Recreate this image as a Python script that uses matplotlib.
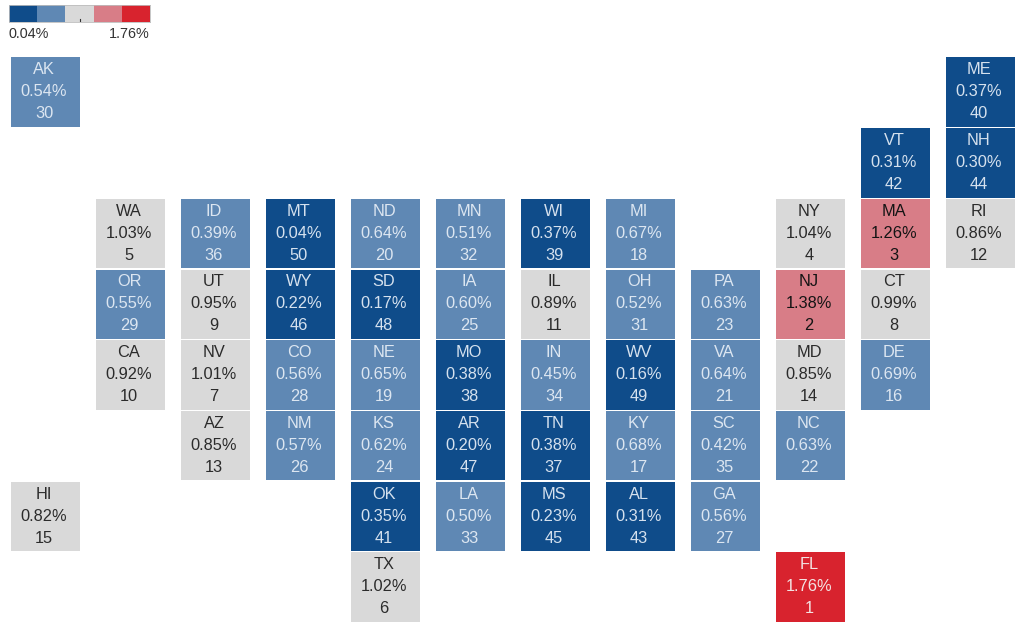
"""Tile grid map of US states, shaded by percentage, with rank under each value."""
import matplotlib
matplotlib.use("Agg")
import matplotlib.pyplot as plt
from matplotlib.patches import Rectangle
import numpy as np

plt.rcParams["font.family"] = ["Liberation Sans", "DejaVu Sans"]

STATES = ["AK", "ME", "VT", "NH",
          "WA", "ID", "MT", "ND", "MN", "WI", "MI", "NY", "MA", "RI",
          "OR", "UT", "WY", "SD", "IA", "IL", "OH", "PA", "NJ", "CT",
          "CA", "NV", "CO", "NE", "MO", "IN", "WV", "VA", "MD", "DE",
          "AZ", "NM", "KS", "AR", "TN", "KY", "SC", "NC",
          "HI", "OK", "LA", "MS", "AL", "GA",
          "TX", "FL"]
PCT = [0.54, 0.37, 0.31, 0.30,
       1.03, 0.39, 0.04, 0.64, 0.51, 0.37, 0.67, 1.04, 1.26, 0.86,
       0.55, 0.95, 0.22, 0.17, 0.60, 0.89, 0.52, 0.63, 1.38, 0.99,
       0.92, 1.01, 0.56, 0.65, 0.38, 0.45, 0.16, 0.64, 0.85, 0.69,
       0.85, 0.57, 0.62, 0.20, 0.38, 0.68, 0.42, 0.63,
       0.82, 0.35, 0.50, 0.23, 0.31, 0.56,
       1.02, 1.76]
RANK = [30, 40, 42, 44,
        5, 36, 50, 20, 32, 39, 18, 4, 3, 12,
        29, 9, 46, 48, 25, 11, 31, 23, 2, 8,
        10, 7, 28, 19, 38, 34, 49, 21, 14, 16,
        13, 26, 24, 47, 37, 17, 35, 22,
        15, 41, 33, 45, 43, 27,
        6, 1]
GRID_COL = [0, 11, 10, 11,
            1, 2, 3, 4, 5, 6, 7, 9, 10, 11,
            1, 2, 3, 4, 5, 6, 7, 8, 9, 10,
            1, 2, 3, 4, 5, 6, 7, 8, 9, 10,
            2, 3, 4, 5, 6, 7, 8, 9,
            0, 4, 5, 6, 7, 8,
            4, 9]
GRID_ROW = [0, 0, 1, 1,
            2, 2, 2, 2, 2, 2, 2, 2, 2, 2,
            3, 3, 3, 3, 3, 3, 3, 3, 3, 3,
            4, 4, 4, 4, 4, 4, 4, 4, 4, 4,
            5, 5, 5, 5, 5, 5, 5, 5,
            6, 6, 6, 6, 6, 6,
            7, 7]

BIN_EDGES = [0.385, 0.75, 1.10, 1.50]
BIN_COLORS = ["#0F4C8A", "#5F88B4", "#D9D9D9", "#D87D87", "#D8232E"]
TEXT_COLORS = ["#D5E1EE", "#DCE6F1", "#2B2B2B", "#141414", "#F3E3E3"]
LEGEND_LOW, LEGEND_HIGH = "0.04%", "1.76%"

W, H = 1019, 622
fig = plt.figure(figsize=(W / 100, H / 100), dpi=100)

# one grid unit = one tile pitch; offsets put column 0 / row 0 where the tiles start
PITCH_X, PITCH_Y = 85.0, 70.7
LEFT, TOP = 11.0, 57.4
ax = fig.add_axes([0, 0, 1, 1])
ax.set_xlim(-LEFT / PITCH_X, (W - LEFT) / PITCH_X)
ax.set_ylim((H - TOP) / PITCH_Y, -TOP / PITCH_Y)
ax.axis("off")

TILE_W, TILE_H = 69 / PITCH_X, 69.5 / PITCH_Y
bins = np.digitize(PCT, BIN_EDGES)
for st, p, r, c, rw, b in zip(STATES, PCT, RANK, GRID_COL, GRID_ROW, bins):
    ax.add_patch(Rectangle((c, rw), TILE_W, TILE_H, fc=BIN_COLORS[b], ec="none"))
    xc = c + (TILE_W * PITCH_X / 2 - 1.5) / PITCH_X  # labels sit slightly left of centre
    for dy, txt in zip((-22, 0, 22), (st, f"{p:.2f}%", str(r))):
        ax.text(xc, rw + (34.5 + dy) / PITCH_Y, txt, ha="center", va="center",
                fontsize=11.8, color=TEXT_COLORS[b])

# legend: five colour steps with a small tick under the middle one
lax = fig.add_axes([9 / W, 1 - 22 / H, 141 / W, 17 / H])
lax.imshow([list(range(5))], aspect="auto", extent=(0, 5, 0, 1),
           cmap=matplotlib.colors.ListedColormap(BIN_COLORS), interpolation="nearest")
lax.set_xticks([]); lax.set_yticks([])
for s in lax.spines.values():
    s.set_color("#BDBDBD")
    s.set_linewidth(0.6)
lax.plot([2.53, 2.53], [0, 0.2], color="#333333", lw=0.8)
lax.set_xlim(0, 5); lax.set_ylim(0, 1)
fig.text(8.5 / W, 1 - 33.5 / H, LEGEND_LOW, ha="left", va="center", fontsize=10.4, color="#333333")
fig.text(150 / W, 1 - 33.5 / H, LEGEND_HIGH, ha="right", va="center", fontsize=10.4, color="#333333")

fig.savefig("out.png", dpi=100)
plt.close(fig)
